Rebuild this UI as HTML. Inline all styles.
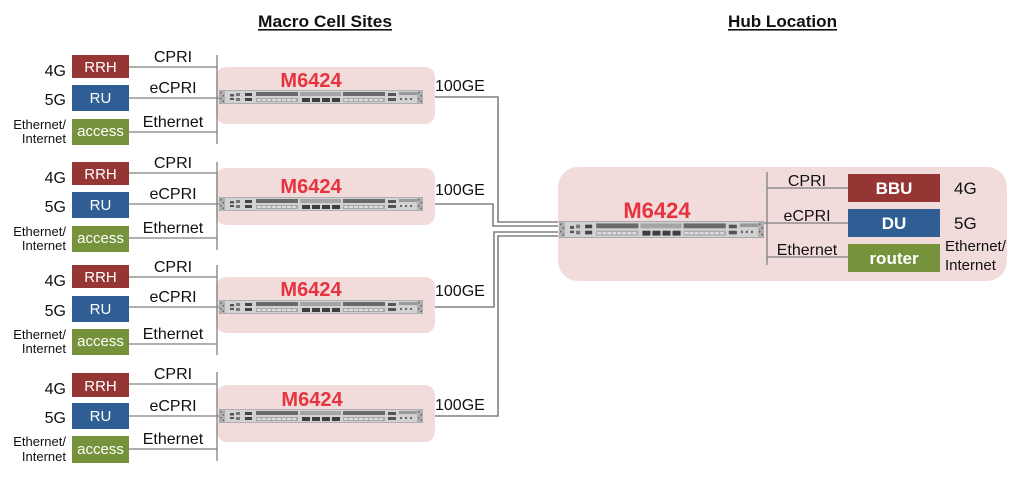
<!DOCTYPE html>
<html><head><meta charset="utf-8"><style>
html,body{margin:0;padding:0;background:#fff;}
svg{display:block;font-family:"Liberation Sans",Arial,sans-serif;}
</style></head><body>
<svg width="1024" height="482" viewBox="0 0 1024 482" xmlns="http://www.w3.org/2000/svg">
<defs>
<symbol id="dev" viewBox="0 0 204 14" preserveAspectRatio="none">
<rect x="0" y="0" width="204" height="14" fill="#d2d2d2"/>
<rect x="0.3" y="0.3" width="203.4" height="13.4" fill="none" stroke="#9a9a9a" stroke-width="0.6"/>
<rect x="0" y="1" width="6" height="12" fill="#b0b0b0"/>
<rect x="1" y="2" width="1.5" height="1.5" fill="#666"/><rect x="3.5" y="5" width="1.5" height="1.5" fill="#666"/><rect x="1" y="8" width="1.5" height="1.5" fill="#666"/><rect x="3.5" y="10.5" width="1.5" height="1.5" fill="#666"/>
<rect x="11" y="4" width="4" height="2.5" fill="#555"/><rect x="11" y="8" width="4" height="2" fill="#555"/>
<rect x="17" y="3" width="4" height="3" fill="#777"/><rect x="17" y="8" width="4" height="3" fill="#777"/>
<rect x="26" y="3" width="7" height="3" fill="#444"/><rect x="26" y="8" width="7" height="3" fill="#444"/>
<rect x="37" y="2" width="42" height="4" fill="#6a6a6a"/>
<rect x="37" y="8" width="42" height="4" fill="#a8a8a8"/>
<rect x="38" y="9" width="4" height="2" fill="#fff" opacity=".6"/><rect x="43" y="9" width="4" height="2" fill="#fff" opacity=".6"/><rect x="48" y="9" width="4" height="2" fill="#fff" opacity=".6"/><rect x="53" y="9" width="4" height="2" fill="#fff" opacity=".6"/><rect x="58" y="9" width="4" height="2" fill="#fff" opacity=".6"/><rect x="63" y="9" width="4" height="2" fill="#fff" opacity=".6"/><rect x="68" y="9" width="4" height="2" fill="#fff" opacity=".6"/><rect x="73" y="9" width="4" height="2" fill="#fff" opacity=".6"/>
<rect x="81" y="2" width="41" height="4" fill="#a4a4a4"/>
<rect x="83" y="8" width="8" height="4" fill="#3e3e3e"/><rect x="93" y="8" width="8" height="4" fill="#3e3e3e"/><rect x="103" y="8" width="8" height="4" fill="#3e3e3e"/><rect x="113" y="8" width="8" height="4" fill="#3e3e3e"/>
<rect x="124" y="2" width="42" height="4" fill="#6a6a6a"/>
<rect x="124" y="8" width="42" height="4" fill="#a8a8a8"/>
<rect x="125" y="9" width="4" height="2" fill="#fff" opacity=".6"/><rect x="130" y="9" width="4" height="2" fill="#fff" opacity=".6"/><rect x="135" y="9" width="4" height="2" fill="#fff" opacity=".6"/><rect x="140" y="9" width="4" height="2" fill="#fff" opacity=".6"/><rect x="145" y="9" width="4" height="2" fill="#fff" opacity=".6"/><rect x="150" y="9" width="4" height="2" fill="#fff" opacity=".6"/><rect x="155" y="9" width="4" height="2" fill="#fff" opacity=".6"/><rect x="160" y="9" width="4" height="2" fill="#fff" opacity=".6"/>
<rect x="169" y="3" width="8" height="3" fill="#555"/><rect x="169" y="8" width="8" height="3" fill="#555"/>
<rect x="180" y="2" width="18" height="3" fill="#999"/><rect x="181" y="8" width="2" height="2" fill="#666"/><rect x="186" y="8" width="2" height="2" fill="#666"/><rect x="191" y="8" width="2" height="2" fill="#666"/>
<rect x="198" y="1" width="6" height="12" fill="#b0b0b0"/>
<rect x="199" y="2" width="1.5" height="1.5" fill="#666"/><rect x="201.5" y="5" width="1.5" height="1.5" fill="#666"/><rect x="199" y="8" width="1.5" height="1.5" fill="#666"/><rect x="201.5" y="10.5" width="1.5" height="1.5" fill="#666"/>
</symbol>
</defs>

<!-- Titles -->
<text x="258" y="27" font-size="16.3" font-weight="bold" fill="#111" textLength="134" lengthAdjust="spacingAndGlyphs">Macro Cell Sites</text>
<rect x="258" y="29" width="134" height="1.6" fill="#111"/>
<text x="728" y="27" font-size="16.8" font-weight="bold" fill="#111" textLength="109" lengthAdjust="spacingAndGlyphs">Hub Location</text>
<rect x="728" y="29" width="109" height="1.6" fill="#111"/>

<!-- Trunk lines to hub -->
<g fill="none" stroke="#808080" stroke-width="1.6">
<polyline points="423,97 498,97 498,222 560,222"/>
<polyline points="423,204 493,204 493,226 560,226"/>
<polyline points="423,307 494,307 494,232 560,232"/>
<polyline points="423,416 498,416 498,236 560,236"/>
</g>

<!-- ===== Site 1 ===== -->
<rect x="216" y="67" width="219" height="57" rx="10" fill="#f2dcdb"/>
<g stroke="#808080" stroke-width="1.3" fill="none">
<line x1="217" y1="55" x2="217" y2="144"/>
<line x1="129" y1="67" x2="217" y2="67"/>
<line x1="129" y1="98" x2="219" y2="98"/>
<line x1="129" y1="132" x2="217" y2="132"/>
</g>
<use href="#dev" x="219" y="90" width="204" height="14"/>
<text x="311" y="87" font-size="20" font-weight="bold" fill="#e6333f" text-anchor="middle">M6424</text>
<text x="435" y="91" font-size="16" fill="#111">100GE</text>
<rect x="72" y="55" width="57" height="23" fill="#963634"/>
<rect x="72" y="85" width="57" height="26" fill="#2f5e94"/>
<rect x="72" y="119" width="57" height="26" fill="#76933c"/>
<g fill="#fff" font-size="15" text-anchor="middle">
<text x="100.5" y="72">RRH</text><text x="100.5" y="103">RU</text><text x="100.5" y="136">access</text>
</g>
<g fill="#111" text-anchor="end">
<text x="66" y="76" font-size="16">4G</text><text x="66" y="105" font-size="16">5G</text>
<text x="66" y="129" font-size="13">Ethernet/</text><text x="66" y="143" font-size="13">Internet</text>
</g>
<g fill="#111" font-size="16" text-anchor="middle">
<text x="173" y="62">CPRI</text><text x="173" y="93">eCPRI</text><text x="173" y="127">Ethernet</text>
</g>

<!-- ===== Site 2 ===== -->
<rect x="216" y="168" width="219" height="57" rx="10" fill="#f2dcdb"/>
<g stroke="#808080" stroke-width="1.3" fill="none">
<line x1="217" y1="162" x2="217" y2="250"/>
<line x1="129" y1="173" x2="217" y2="173"/>
<line x1="129" y1="204" x2="219" y2="204"/>
<line x1="129" y1="238" x2="217" y2="238"/>
</g>
<use href="#dev" x="219" y="197" width="204" height="14"/>
<text x="311" y="193" font-size="20" font-weight="bold" fill="#e6333f" text-anchor="middle">M6424</text>
<text x="435" y="195" font-size="16" fill="#111">100GE</text>
<rect x="72" y="162" width="57" height="23" fill="#963634"/>
<rect x="72" y="192" width="57" height="26" fill="#2f5e94"/>
<rect x="72" y="226" width="57" height="26" fill="#76933c"/>
<g fill="#fff" font-size="15" text-anchor="middle">
<text x="100.5" y="179">RRH</text><text x="100.5" y="210">RU</text><text x="100.5" y="243">access</text>
</g>
<g fill="#111" text-anchor="end">
<text x="66" y="183" font-size="16">4G</text><text x="66" y="212" font-size="16">5G</text>
<text x="66" y="236" font-size="13">Ethernet/</text><text x="66" y="250" font-size="13">Internet</text>
</g>
<g fill="#111" font-size="16" text-anchor="middle">
<text x="173" y="168">CPRI</text><text x="173" y="199">eCPRI</text><text x="173" y="233">Ethernet</text>
</g>

<!-- ===== Site 3 ===== -->
<rect x="216" y="277" width="219" height="56" rx="10" fill="#f2dcdb"/>
<g stroke="#808080" stroke-width="1.3" fill="none">
<line x1="217" y1="265" x2="217" y2="355"/>
<line x1="129" y1="277" x2="217" y2="277"/>
<line x1="129" y1="307" x2="219" y2="307"/>
<line x1="129" y1="344" x2="217" y2="344"/>
</g>
<use href="#dev" x="219" y="300" width="204" height="14"/>
<text x="311" y="296" font-size="20" font-weight="bold" fill="#e6333f" text-anchor="middle">M6424</text>
<text x="435" y="296" font-size="16" fill="#111">100GE</text>
<rect x="72" y="265" width="57" height="23" fill="#963634"/>
<rect x="72" y="296" width="57" height="26" fill="#2f5e94"/>
<rect x="72" y="329" width="57" height="26" fill="#76933c"/>
<g fill="#fff" font-size="15" text-anchor="middle">
<text x="100.5" y="282">RRH</text><text x="100.5" y="314">RU</text><text x="100.5" y="346">access</text>
</g>
<g fill="#111" text-anchor="end">
<text x="66" y="286" font-size="16">4G</text><text x="66" y="316" font-size="16">5G</text>
<text x="66" y="339" font-size="13">Ethernet/</text><text x="66" y="353" font-size="13">Internet</text>
</g>
<g fill="#111" font-size="16" text-anchor="middle">
<text x="173" y="272">CPRI</text><text x="173" y="302">eCPRI</text><text x="173" y="339">Ethernet</text>
</g>

<!-- ===== Site 4 ===== -->
<rect x="217" y="385" width="218" height="57" rx="10" fill="#f2dcdb"/>
<g stroke="#808080" stroke-width="1.3" fill="none">
<line x1="217" y1="372" x2="217" y2="461"/>
<line x1="129" y1="384" x2="217" y2="384"/>
<line x1="129" y1="416" x2="219" y2="416"/>
<line x1="129" y1="449" x2="217" y2="449"/>
</g>
<use href="#dev" x="219" y="409" width="204" height="14"/>
<text x="312" y="406" font-size="20" font-weight="bold" fill="#e6333f" text-anchor="middle">M6424</text>
<text x="435" y="410" font-size="16" fill="#111">100GE</text>
<rect x="72" y="373" width="57" height="24" fill="#963634"/>
<rect x="72" y="403" width="57" height="26" fill="#2f5e94"/>
<rect x="72" y="436" width="57" height="27" fill="#76933c"/>
<g fill="#fff" font-size="15" text-anchor="middle">
<text x="100.5" y="391">RRH</text><text x="100.5" y="421">RU</text><text x="100.5" y="454">access</text>
</g>
<g fill="#111" text-anchor="end">
<text x="66" y="394" font-size="16">4G</text><text x="66" y="423" font-size="16">5G</text>
<text x="66" y="446" font-size="13">Ethernet/</text><text x="66" y="461" font-size="13">Internet</text>
</g>
<g fill="#111" font-size="16" text-anchor="middle">
<text x="173" y="379">CPRI</text><text x="173" y="411">eCPRI</text><text x="173" y="444">Ethernet</text>
</g>

<!-- ===== Hub ===== -->
<rect x="558" y="167" width="449" height="114" rx="20" fill="#f2dcdb"/>
<use href="#dev" x="559" y="221" width="205" height="17"/>
<text x="657" y="218" font-size="22" font-weight="bold" fill="#e6333f" text-anchor="middle">M6424</text>
<g stroke="#808080" stroke-width="1.3" fill="none">
<line x1="767" y1="172" x2="767" y2="265"/>
<line x1="767" y1="188" x2="848" y2="188"/>
<line x1="764" y1="223" x2="848" y2="223"/>
<line x1="767" y1="257" x2="848" y2="257"/>
</g>
<rect x="848" y="174" width="92" height="28" fill="#963634"/>
<rect x="848" y="209" width="92" height="28" fill="#2f5e94"/>
<rect x="848" y="244" width="92" height="28" fill="#76933c"/>
<g fill="#fff" font-size="17" font-weight="bold" text-anchor="middle">
<text x="894" y="194">BBU</text><text x="894" y="229">DU</text><text x="894" y="264">router</text>
</g>
<g fill="#111" font-size="16" text-anchor="middle">
<text x="807" y="186">CPRI</text><text x="807" y="221">eCPRI</text><text x="807" y="255">Ethernet</text>
</g>
<g fill="#111">
<text x="954" y="194" font-size="17">4G</text>
<text x="954" y="229" font-size="17">5G</text>
<text x="945" y="251" font-size="15">Ethernet/</text>
<text x="945" y="270" font-size="15">Internet</text>
</g>
</svg>
</body></html>
